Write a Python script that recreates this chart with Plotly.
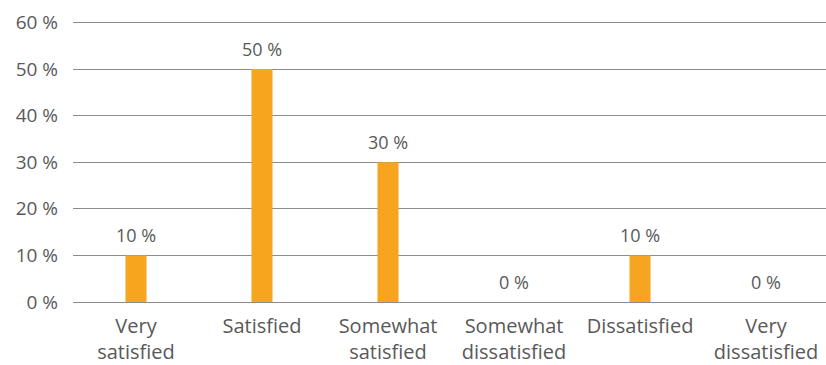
import plotly.graph_objects as go

categories = ["Very<br>satisfied", "Satisfied", "Somewhat<br>satisfied",
              "Somewhat<br>dissatisfied", "Dissatisfied", "Very<br>dissatisfied"]
values = [10, 50, 30, 0, 10, 0]
y_ticks = [0, 10, 20, 30, 40, 50, 60]
y_tick_labels = [f"{v} %" for v in y_ticks]

FONT = "'Open Sans', sans-serif"
GRAY = "#595959"

fig = go.Figure(go.Bar(
    x=categories,
    y=values,
    marker=dict(color="#F7A51E", line=dict(width=0)),
    hoverinfo="skip",
))

for cat, v in zip(categories, values):
    fig.add_annotation(
        x=cat, y=v, text=f"{v} %",
        showarrow=False, yanchor="bottom", yshift=6,
        font=dict(family=FONT, size=18, color=GRAY),
    )

fig.update_layout(
    width=826, height=365,
    margin=dict(l=73, r=0, t=21, b=63, autoexpand=False),
    paper_bgcolor="white", plot_bgcolor="white",
    bargap=0.833,
    showlegend=False,
    font=dict(family=FONT, size=18, color=GRAY),
)
fig.update_xaxes(
    range=[-0.5, 5.476],
    automargin=False,
    showgrid=False, showline=False, ticks="",
    ticklabelstandoff=10,
    tickfont=dict(family=FONT, size=20, color=GRAY),
)
fig.update_yaxes(
    range=[0, 60.3],
    automargin=False,
    tickvals=y_ticks, ticktext=y_tick_labels,
    showgrid=True, gridcolor="#8C8C8C", gridwidth=1,
    zeroline=True, zerolinecolor="#8C8C8C", zerolinewidth=1,
    showline=False, ticks="",
    ticklabelstandoff=14,
    tickfont=dict(family=FONT, size=19, color=GRAY),
)

fig.write_html(
    "out.html",
    config={"displayModeBar": False},
    post_script="document.body.style.margin='0';document.body.style.overflow='hidden';",
)
